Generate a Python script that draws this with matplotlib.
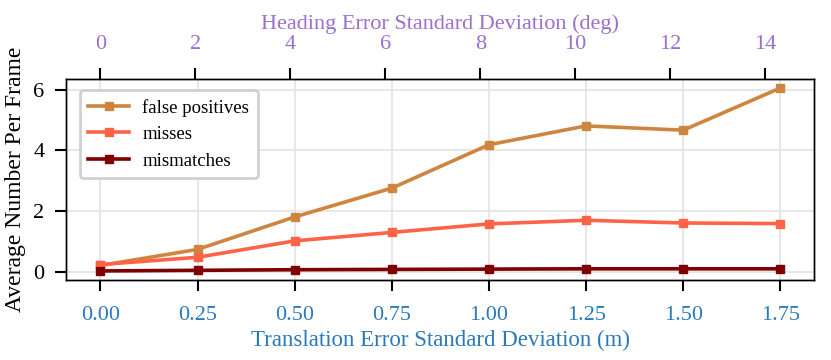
import numpy as np
import matplotlib
matplotlib.use("Agg")
import matplotlib.pyplot as plt

plt.rcParams['font.family'] = ['Liberation Serif', 'DejaVu Serif']

# data
translation = [0.00, 0.25, 0.50, 0.75, 1.00, 1.25, 1.50, 1.75]
heading = [0.0, 2.05, 4.09, 6.14, 8.19, 10.23, 12.28, 14.32]
heading_ticks = [0, 2, 4, 6, 8, 10, 12, 14]
false_positives = [0.20, 0.73, 1.80, 2.75, 4.18, 4.80, 4.66, 6.05]
misses = [0.23, 0.47, 1.01, 1.29, 1.57, 1.69, 1.60, 1.58]
mismatches = [0.02, 0.04, 0.06, 0.07, 0.08, 0.09, 0.09, 0.09]

bottom_color = '#2a7ab9'
top_color = '#9a6fcf'

fig = plt.figure(figsize=(8.31, 3.6), dpi=100)
ax = fig.add_axes([0.080, 0.222, 0.900, 0.559])

ax.plot(translation, false_positives, '-s', color='peru', lw=2.6, ms=6, label='false positives')
ax.plot(translation, misses, '-s', color='tomato', lw=2.6, ms=6, label='misses')
ax.plot(translation, mismatches, '-s', color='maroon', lw=2.6, ms=6, label='mismatches')

ax.grid(True, color='#e3e3e3', lw=1.2)
ax.set_axisbelow(True)
ax.set_xticks(translation)
ax.set_xticklabels([f'{t:.2f}' for t in translation])
ax.set_yticks([0, 2, 4, 6])
ax.tick_params(axis='both', direction='out', length=8, width=1.5, labelsize=16)
ax.tick_params(axis='x', labelcolor=bottom_color, pad=11)
ax.tick_params(axis='y', pad=8)
ax.set_xlabel('Translation Error Standard Deviation (m)', color=bottom_color, fontsize=16.5, labelpad=3)
ax.set_ylabel('Average Number Per Frame', fontsize=17, labelpad=5)
for s in ax.spines.values():
    s.set_linewidth(1.0)

leg = ax.legend(loc='upper left', fontsize=13.5, frameon=True, fancybox=True,
                borderpad=0.45, handlelength=2.2, handletextpad=0.7, labelspacing=0.5,
                bbox_to_anchor=(0.005, 0.99))
leg.get_frame().set_edgecolor('#d0d0d0')
leg.get_frame().set_linewidth(2.0)
leg.get_frame().set_alpha(1.0)

# top axis for heading error
ax2 = ax.twiny()
span = heading[-1] - heading[0]
ax2.set_xlim(heading[0] - 0.05 * span, heading[-1] + 0.05 * span)
ax2.set_xticks(heading_ticks)
ax2.tick_params(axis='x', direction='out', length=8, width=1.5, labelsize=16,
                labelcolor=top_color, pad=10)
ax2.set_xlabel('Heading Error Standard Deviation (deg)', color=top_color, fontsize=16, labelpad=4)
for s in ax2.spines.values():
    s.set_linewidth(1.0)

fig.savefig('out.png', dpi=100)
